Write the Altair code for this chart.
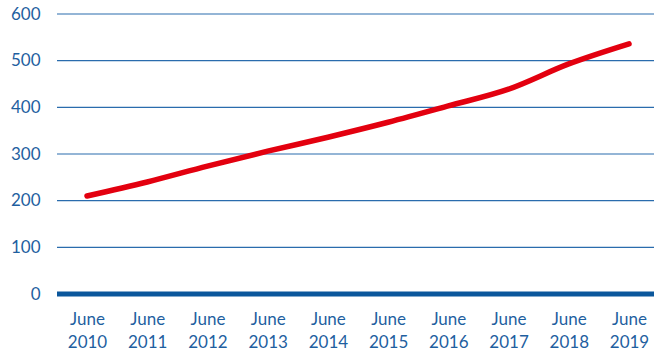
import altair as alt
import pandas as pd

periods = ["June 2010", "June 2011", "June 2012", "June 2013", "June 2014",
           "June 2015", "June 2016", "June 2017", "June 2018", "June 2019"]
values = [210, 240, 274, 306, 336, 368, 403, 439, 493, 536]
y_ticks = [0, 100, 200, 300, 400, 500, 600]

df = pd.DataFrame({"period": periods, "value": values})
grid_df = pd.DataFrame({"value": y_ticks[1:]})
zero = pd.DataFrame({"value": [0]})

blue = "#1f5f9f"
yscale = alt.Scale(domain=[0, 600], nice=False)
yaxis = alt.Axis(values=y_ticks, labelFont="Lato", labelFontSize=17,
                 labelColor=blue, labelPadding=17, ticks=False,
                 domain=False, grid=False)

x = alt.X("period:N", sort=periods, title=None,
          scale=alt.Scale(type="point", padding=0, range=[30, 572]),
          axis=alt.Axis(labelExpr="split(datum.label, ' ')", labelAngle=0,
                        labelFont="Lato", labelFontSize=17, labelColor=blue,
                        labelPadding=17, labelLineHeight=23, ticks=False,
                        domain=False, grid=False))

grid = alt.Chart(grid_df).mark_rule(color="#2a6cad", strokeWidth=1.2).encode(
    y=alt.Y("value:Q", scale=yscale, axis=yaxis, title=None),
    x=alt.value(0), x2=alt.value(597))

rule = alt.Chart(zero).mark_rule(color="#0b579c", strokeWidth=5).encode(
    y=alt.Y("value:Q", scale=yscale, axis=yaxis, title=None),
    x=alt.value(0), x2=alt.value(597))

line = alt.Chart(df).mark_line(color="#e3000f", strokeWidth=5.5,
                               strokeCap="round", interpolate="monotone").encode(
    x=x, y=alt.Y("value:Q", scale=yscale, axis=yaxis, title=None))

chart = alt.layer(grid, rule, line).properties(
    width=597, height=280,
    autosize=alt.AutoSizeParams(type="none"),
    padding={"left": 57, "top": 14, "right": 0, "bottom": 57},
).configure(background="white").configure_view(stroke=None, strokeWidth=0)

chart.save("out.html", embed_options={"renderer": "svg", "actions": False})
